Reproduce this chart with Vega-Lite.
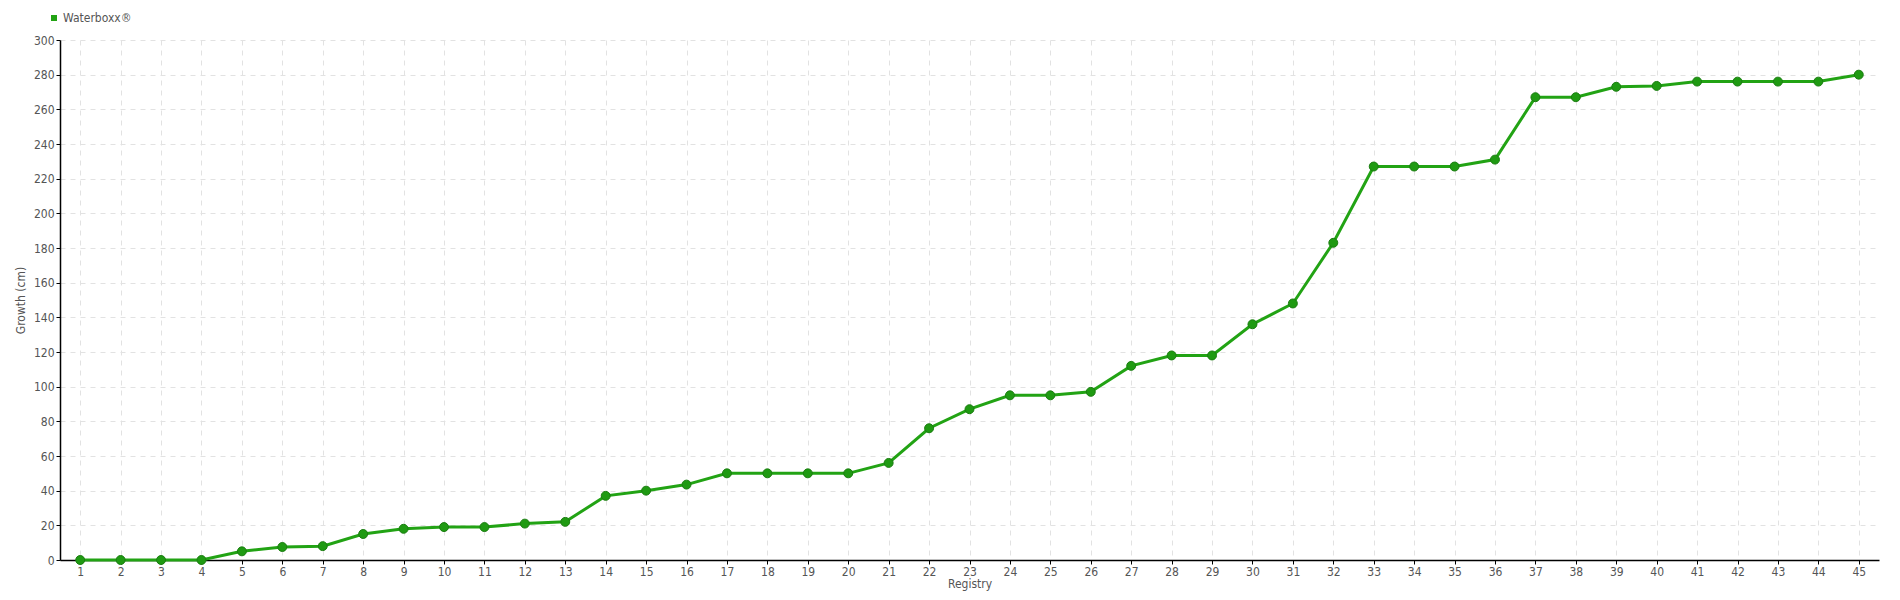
{
  "$schema": "https://vega.github.io/schema/vega-lite/v6.json",
  "width": 1819,
  "height": 520,
  "autosize": {"type": "none"},
  "padding": {"left": 60, "top": 40, "right": 21, "bottom": 40},
  "background": "white",
  "config": {
    "view": {"stroke": null},
    "font": "DejaVu Sans Condensed, DejaVu Sans",
    "axis": {
      "labelFont": "DejaVu Sans Condensed, DejaVu Sans",
      "titleFont": "DejaVu Sans Condensed, DejaVu Sans",
      "labelColor": "#555555",
      "titleColor": "#555555",
      "labelFontSize": 12,
      "titleFontSize": 12,
      "titleFontWeight": "normal",
      "labelOverlap": false,
      "domainColor": "#000000",
      "domainWidth": 1.5,
      "tickColor": "#000000",
      "tickSize": 4,
      "gridColor": "#e2e2e2",
      "gridDash": [5, 5],
      "gridWidth": 1
    }
  },
  "data": {
    "values": [
      {"registry": 1, "growth": 0, "series": "Waterboxx®"},
      {"registry": 2, "growth": 0, "series": "Waterboxx®"},
      {"registry": 3, "growth": 0, "series": "Waterboxx®"},
      {"registry": 4, "growth": 0, "series": "Waterboxx®"},
      {"registry": 5, "growth": 5, "series": "Waterboxx®"},
      {"registry": 6, "growth": 7.5, "series": "Waterboxx®"},
      {"registry": 7, "growth": 8, "series": "Waterboxx®"},
      {"registry": 8, "growth": 15, "series": "Waterboxx®"},
      {"registry": 9, "growth": 18, "series": "Waterboxx®"},
      {"registry": 10, "growth": 19, "series": "Waterboxx®"},
      {"registry": 11, "growth": 19, "series": "Waterboxx®"},
      {"registry": 12, "growth": 21, "series": "Waterboxx®"},
      {"registry": 13, "growth": 22, "series": "Waterboxx®"},
      {"registry": 14, "growth": 37, "series": "Waterboxx®"},
      {"registry": 15, "growth": 40, "series": "Waterboxx®"},
      {"registry": 16, "growth": 43.5, "series": "Waterboxx®"},
      {"registry": 17, "growth": 50, "series": "Waterboxx®"},
      {"registry": 18, "growth": 50, "series": "Waterboxx®"},
      {"registry": 19, "growth": 50, "series": "Waterboxx®"},
      {"registry": 20, "growth": 50, "series": "Waterboxx®"},
      {"registry": 21, "growth": 56, "series": "Waterboxx®"},
      {"registry": 22, "growth": 76, "series": "Waterboxx®"},
      {"registry": 23, "growth": 87, "series": "Waterboxx®"},
      {"registry": 24, "growth": 95, "series": "Waterboxx®"},
      {"registry": 25, "growth": 95, "series": "Waterboxx®"},
      {"registry": 26, "growth": 97, "series": "Waterboxx®"},
      {"registry": 27, "growth": 112, "series": "Waterboxx®"},
      {"registry": 28, "growth": 118, "series": "Waterboxx®"},
      {"registry": 29, "growth": 118, "series": "Waterboxx®"},
      {"registry": 30, "growth": 136, "series": "Waterboxx®"},
      {"registry": 31, "growth": 148, "series": "Waterboxx®"},
      {"registry": 32, "growth": 183, "series": "Waterboxx®"},
      {"registry": 33, "growth": 227, "series": "Waterboxx®"},
      {"registry": 34, "growth": 227, "series": "Waterboxx®"},
      {"registry": 35, "growth": 227, "series": "Waterboxx®"},
      {"registry": 36, "growth": 231, "series": "Waterboxx®"},
      {"registry": 37, "growth": 267, "series": "Waterboxx®"},
      {"registry": 38, "growth": 267, "series": "Waterboxx®"},
      {"registry": 39, "growth": 273, "series": "Waterboxx®"},
      {"registry": 40, "growth": 273.5, "series": "Waterboxx®"},
      {"registry": 41, "growth": 276, "series": "Waterboxx®"},
      {"registry": 42, "growth": 276, "series": "Waterboxx®"},
      {"registry": 43, "growth": 276, "series": "Waterboxx®"},
      {"registry": 44, "growth": 276, "series": "Waterboxx®"},
      {"registry": 45, "growth": 280, "series": "Waterboxx®"}
    ]
  },
  "encoding": {
    "x": {
      "field": "registry",
      "type": "ordinal",
      "scale": {"type": "point", "padding": 0.5},
      "axis": {"title": "Registry", "labelAngle": 0, "grid": true, "titlePadding": 1, "labelPadding": 2}
    },
    "y": {
      "field": "growth",
      "type": "quantitative",
      "scale": {"domain": [0, 300], "nice": false},
      "axis": {"title": "Growth (cm)", "values": [0,20,40,60,80,100,120,140,160,180,200,220,240,260,280,300], "grid": true, "titlePadding": 6, "labelPadding": 2}
    },
    "color": {
      "field": "series",
      "type": "nominal",
      "scale": {"range": ["#22a314"]},
      "legend": {
        "title": null,
        "orient": "none",
        "legendX": -12,
        "legendY": -28,
        "symbolType": "square",
        "symbolSize": 36,
        "symbolStrokeWidth": 0,
        "labelFontSize": 12,
        "labelColor": "#555555",
        "labelFont": "DejaVu Sans Condensed, DejaVu Sans",
        "labelOffset": 3
      }
    }
  },
  "layer": [
    {"mark": {"type": "line", "strokeWidth": 3}},
    {"mark": {"type": "point", "filled": true, "size": 80, "opacity": 1, "stroke": "#1a7d10", "strokeWidth": 1, "fill": "#1f9a12"}}
  ]
}
